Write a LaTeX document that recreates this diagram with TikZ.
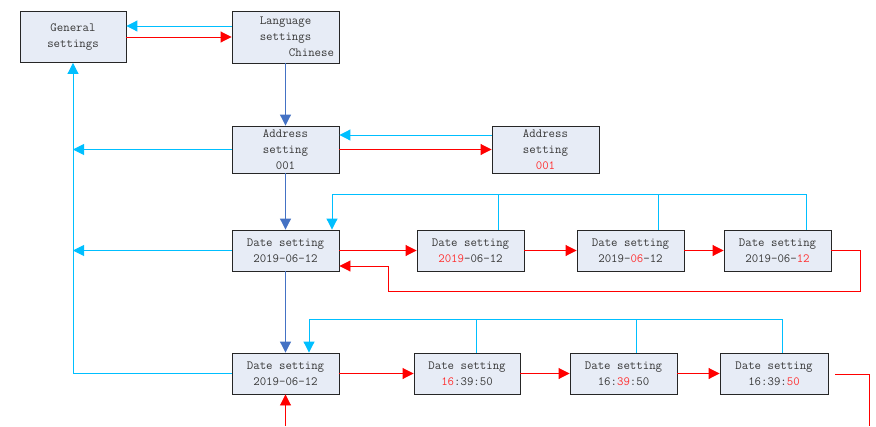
\documentclass[tikz,border=0pt]{standalone}
\usepackage{fontspec}
\usetikzlibrary{arrows.meta,calc}
\definecolor{boxfill}{HTML}{E7ECF6}
\definecolor{cyanln}{HTML}{00BFFF}
\definecolor{blueln}{HTML}{4472C4}
\definecolor{redln}{HTML}{FF0000}
\definecolor{txt}{HTML}{383838}
\definecolor{redtxt}{HTML}{FF3030}
\newcommand{\rt}[1]{\textcolor{redtxt}{#1}}
\begin{document}
\begin{tikzpicture}[x=1pt,y=-1pt,
  box/.style={draw=black!85,line width=0.9pt,fill=boxfill,text=txt,
    minimum width=107pt,inner sep=2pt,align=center,
    font=\ttfamily\fontsize{12.5}{16}\selectfont},
  cy/.style={draw=cyanln,line width=1pt,-{Triangle[length=11pt,width=11pt]}},
  cyl/.style={draw=cyanln,line width=0.9pt},
  bl/.style={draw=blueln,line width=1pt,-{Triangle[length=11pt,width=11pt]}},
  rd/.style={draw=redln,line width=0.9pt,-{Triangle[length=11pt,width=11pt]}},
  rdl/.style={draw=redln,line width=0.9pt}]
\useasboundingbox (0,0) rectangle (876,426);

\node[box,minimum width=106pt,minimum height=51pt] (gen) at (73,37) {General\\settings};
\node[box,minimum height=52pt] (lang) at (285.5,37) {Language\\settings\\\makebox[97pt][r]{Chinese}};
\node[box,minimum height=47pt] (addr) at (285.5,149.5) {Address\\setting\\001};
\node[box,minimum height=47pt] (addr2) at (545.5,149.5) {Address\\setting\\\rt{001}};

\node[box,minimum height=41pt] (d1) at (285.5,250.5) {Date setting\\2019-06-12};
\node[box,minimum height=41pt] (d2) at (470.5,250.5) {Date setting\\\rt{2019}-06-12};
\node[box,minimum height=41pt] (d3) at (630.5,250.5) {Date setting\\2019-\rt{06}-12};
\node[box,minimum height=41pt] (d4) at (777.5,250.5) {Date setting\\2019-06-\rt{12}};

\node[box,minimum height=41pt] (e1) at (285.5,373.5) {Date setting\\2019-06-12};
\node[box,minimum width=106pt,minimum height=41pt] (e2) at (467,373.5) {Date setting\\\rt{16}:39:50};
\node[box,minimum height=41pt] (e3) at (623.5,373.5) {Date setting\\16:\rt{39}:50};
\node[box,minimum width=108pt,minimum height=41pt] (e4) at (774,373.5) {Date setting\\16:39:\rt{50}};

% top
\draw[cy] ([yshift=11pt]lang.west) -- ([yshift=11pt]gen.east);
\draw[rd] (gen.east) -- (lang.west);
\draw[bl] (lang.south) -- (addr.north);
\draw[cy] ([yshift=14.5pt]addr2.west) -- ([yshift=14.5pt]addr.east);
\draw[rd] (addr.east) -- (addr2.west);
\draw[cy] (addr.west) -- (addr.west -| gen.south);
\draw[bl] (addr.south) -- (d1.north);
\draw[cy] (d1.west) -- (d1.west -| gen.south);
\draw[cy] (e1.west) -- (e1.west -| gen.south) -- (gen.south);
\draw[bl] (d1.south) -- (e1.north);

% date row 1
\draw[rd] (d1.east) -- (d2.west);
\draw[rd] (d2.east) -- (d3.west);
\draw[rd] (d3.east) -- (d4.west);
\coordinate (t1) at (806,194);
\draw[cy] ([xshift=28.5pt]d4.north) -- (t1) -| ([xshift=46.5pt]d1.north);
\draw[cyl] ([xshift=27.5pt]d2.north) -- ([xshift=27.5pt]d2.north |- t1);
\draw[cyl] ([xshift=27.5pt]d3.north) -- ([xshift=27.5pt]d3.north |- t1);
\coordinate (r1) at (860,291);
\coordinate (r2) at (388,291);
\draw[rd] (d4.east) -| (r1) -- (r2) |- ([yshift=-15.5pt]d1.east);

% date row 2
\draw[rd] (e1.east) -- (e2.west);
\draw[rd] (e2.east) -- (e3.west);
\draw[rd] (e3.east) -- (e4.west);
\coordinate (t2) at (782,319);
\draw[cy] ([xshift=8pt]e4.north) -- (t2) -| ([xshift=23.5pt]e1.north);
\draw[cyl] ([xshift=9pt]e2.north) -- ([xshift=9pt]e2.north |- t2);
\draw[cyl] ([xshift=12.5pt]e3.north) -- ([xshift=12.5pt]e3.north |- t2);
\coordinate (f1) at (835,374.5);
\coordinate (f2) at (869,426);
\draw[rdl] (f1) -| (f2);
\coordinate (f3) at (285.5,426);
\draw[rd] (f3) -- (e1.south);
\end{tikzpicture}
\end{document}
